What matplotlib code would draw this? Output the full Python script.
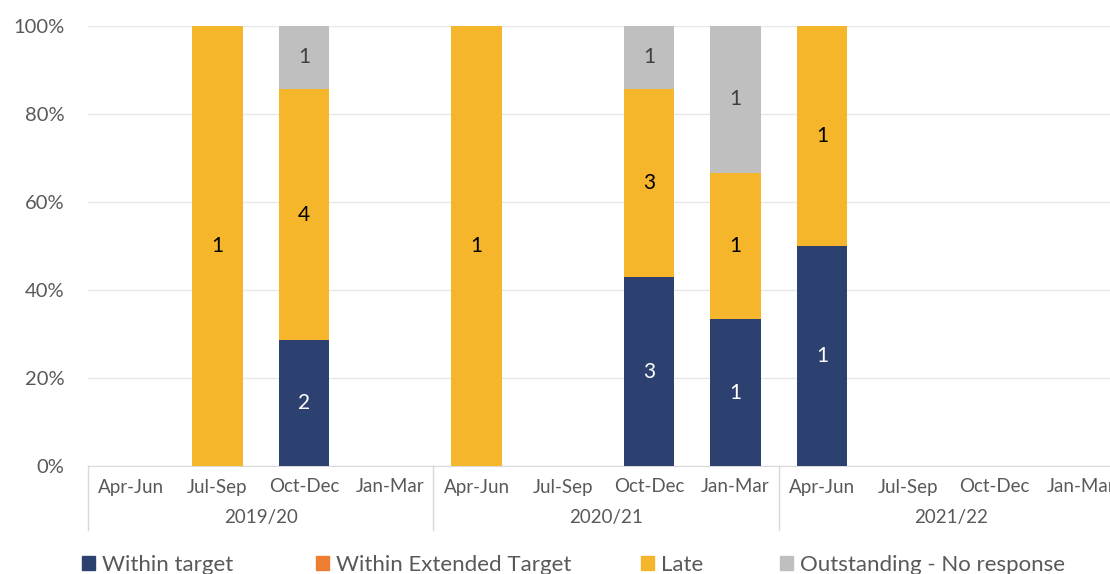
import numpy as np
import matplotlib
matplotlib.use("Agg")
import matplotlib.pyplot as plt
import matplotlib.patches as mpatches
from matplotlib.ticker import PercentFormatter
from matplotlib.transforms import blended_transform_factory

plt.rcParams["font.family"] = ["Lato", "DejaVu Sans"]

# ── Data ───────────────────────────────────────────────────────────────────────
quarters = ["Apr-Jun", "Jul-Sep", "Oct-Dec", "Jan-Mar"]
years    = ["2019/20", "2020/21", "2021/22"]

within_target   = [0, 0, 2, 0,  0, 0, 3, 1,  1, 0, 0, 0]
within_extended = [0, 0, 0, 0,  0, 0, 0, 0,  0, 0, 0, 0]
late            = [0, 1, 4, 0,  1, 0, 3, 1,  1, 0, 0, 0]
outstanding     = [0, 0, 1, 0,  0, 0, 1, 1,  0, 0, 0, 0]

series = [
    ("Within target",            within_target,   "#2C4170", "white"),
    ("Within Extended Target",   within_extended, "#ED7D31", "black"),
    ("Late",                     late,            "#F6B62B", "black"),
    ("Outstanding - No response", outstanding,    "#BFBFBF", "#404040"),
]

counts = np.array([s[1] for s in series], dtype=float)
totals = counts.sum(axis=0)
share  = np.divide(counts, totals, out=np.zeros_like(counts), where=totals > 0) * 100

# ── Plot ───────────────────────────────────────────────────────────────────────
W, H = 1110, 574
fig = plt.figure(figsize=(W / 100, H / 100), dpi=100)
ax_x0, ax_x1 = 88, 1124
ax_y0, ax_y1 = 466, 26
ax = fig.add_axes([ax_x0 / W, 1 - ax_y0 / H, (ax_x1 - ax_x0) / W, (ax_y0 - ax_y1) / H])

n = len(within_target)
x = np.arange(n)
bottom = np.zeros(n)
for i, (name, vals, color, tcol) in enumerate(series):
    ax.bar(x, share[i], 0.58, bottom=bottom, color=color, zorder=3)
    for j in range(n):
        if counts[i, j] > 0:
            ax.text(x[j], bottom[j] + share[i, j] / 2, f"{int(counts[i, j])}",
                    ha="center", va="center", fontsize=15, color=tcol, zorder=4)
    bottom += share[i]

ax.set_xlim(-0.5, n - 0.5)
ax.set_ylim(0, 100)
ax.set_yticks(np.arange(0, 101, 20))
ax.yaxis.set_major_formatter(PercentFormatter(decimals=0))
ax.grid(axis="y", color="#E8E8E8", linewidth=1, zorder=0)
for sp in ["top", "right", "left"]:
    ax.spines[sp].set_visible(False)
ax.spines["bottom"].set_color("#D9D9D9")
ax.tick_params(axis="y", length=0, labelsize=14.5, labelcolor="#595959", pad=17)
ax.tick_params(axis="x", length=0, labelsize=13.5, labelcolor="#595959", pad=9)
ax.set_xticks(x)
ax.set_xticklabels(quarters * len(years))

# group labels and separators
tr = blended_transform_factory(ax.transData, ax.transAxes)
sep_bottom = -(530 - 466) / (ax_y0 - ax_y1)
for k, yr in enumerate(years):
    ax.text(4 * k + 1.5, -(518 - 466) / (ax_y0 - ax_y1), yr, transform=tr,
            ha="center", va="center", fontsize=13.5, color="#595959")
for k in range(len(years) + 1):
    ax.plot([4 * k - 0.5] * 2, [0, sep_bottom], transform=tr, color="#D9D9D9",
            linewidth=1, clip_on=False)

# legend (one entry per slot, Excel-style uneven spacing)
legend_x = [82, 316, 641, 780]
for (name, _, c, _), lx in zip(series, legend_x):
    fig.legend(handles=[mpatches.Patch(color=c, label=name)], loc="upper left",
               bbox_to_anchor=((lx - 20) / W, 1 - 535 / H), frameon=False,
               fontsize=16, handlelength=0.6, handleheight=0.6,
               handletextpad=0.3, labelcolor="#595959")

fig.savefig("out.png", dpi=100)
